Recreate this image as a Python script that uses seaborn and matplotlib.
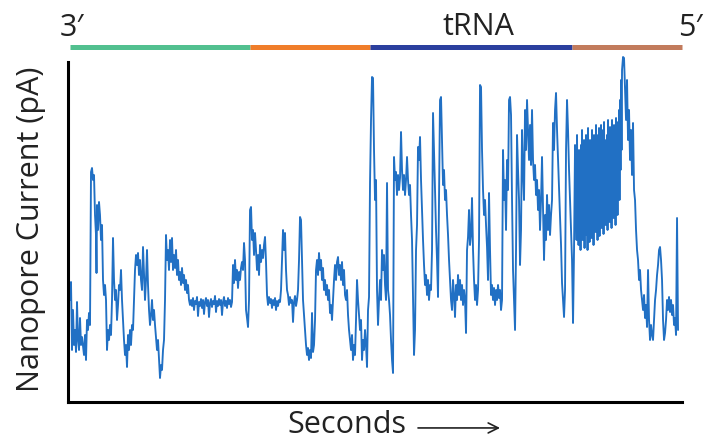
import matplotlib
matplotlib.use("Agg")
import matplotlib.pyplot as plt
import seaborn as sns

# trace: time (s) and current (pA)
time_s = [
    0.2, 0.3, 0.4, 0.5, 0.6, 0.7, 0.8, 0.9, 1.0, 1.1,
    1.2, 1.3, 1.4, 1.6, 1.7, 1.8, 1.9, 2.0, 2.1, 2.2,
    2.3, 2.4, 2.5, 2.6, 2.7, 2.8, 2.85, 2.9, 3.0, 3.1,
    3.2, 3.3, 3.4, 3.5, 3.6, 3.7, 3.8, 3.9, 4.0, 4.1,
    4.2, 4.3, 4.4, 4.5, 4.6, 4.7, 4.8, 4.9, 5.0, 5.1,
    5.2, 5.3, 5.4, 5.5, 5.6, 5.7, 5.8, 5.9, 6.0, 6.1,
    6.2, 6.3, 6.4, 6.5, 6.6, 6.7, 6.8, 6.9, 7.0, 7.1,
    7.2, 7.3, 7.4, 7.5, 7.6, 7.7, 7.8, 7.9, 8.0, 8.1,
    8.2, 8.3, 8.4, 8.5, 8.6, 8.7, 8.8, 8.9, 9.0, 9.1,
    9.2, 9.3, 9.4, 9.5, 9.6, 9.7, 9.8, 9.9, 10.0, 10.1,
    10.2, 10.3, 10.4, 10.5, 10.6, 10.7, 10.8, 10.9, 11.0, 11.1,
    11.2, 11.3, 11.4, 11.5, 11.6, 11.7, 11.8, 11.9, 12.0, 12.1,
    12.2, 12.3, 12.4, 12.5, 12.6, 12.7, 12.8, 12.9, 13.0, 13.1,
    13.2, 13.3, 13.4, 13.5, 13.6, 13.7, 13.8, 13.9, 14.0, 14.1,
    14.2, 14.3, 14.4, 14.5, 14.6, 14.7, 14.8, 14.9, 15.0, 15.1,
    15.2, 15.3, 15.4, 15.5, 15.6, 15.7, 15.8, 15.9, 16.0, 16.1,
    16.2, 16.3, 16.4, 16.5, 16.6, 16.7, 16.8, 16.9, 17.0, 17.1,
    17.2, 17.3, 17.4, 17.5, 17.6, 17.7, 17.8, 17.9, 18.0, 18.1,
    18.2, 18.3, 18.4, 18.5, 18.6, 18.7, 18.8, 18.9, 19.0, 19.1,
    19.2, 19.3, 19.4, 19.5, 19.6, 19.7, 19.8, 19.9, 20.0, 20.1,
    20.2, 20.3, 20.4, 20.5, 20.6, 20.7, 20.8, 20.9, 21.0, 21.1,
    21.2, 21.3, 21.4, 21.5, 21.6, 21.7, 21.8, 21.9, 22.0, 22.1,
    22.2, 22.3, 22.4, 22.5, 22.6, 22.7, 22.8, 22.9, 23.0, 23.1,
    23.2, 23.3, 23.4, 23.5, 23.6, 23.7, 23.8, 23.9, 24.0, 24.1,
    24.2, 24.3, 24.4, 24.5, 24.6, 24.7, 24.8, 24.9, 25.0, 25.1,
    25.2, 25.3, 25.4, 25.5, 25.6, 25.7, 25.8, 25.9, 26.0, 26.1,
    26.2, 26.3, 26.4, 26.5, 26.6, 26.7, 26.8, 26.9, 27.0, 27.1,
    27.2, 27.3, 27.4, 27.5, 27.6, 27.7, 27.8, 27.9, 28.0, 28.1,
    28.2, 28.3, 28.4, 28.5, 28.6, 28.7, 28.8, 28.9, 29.0, 29.1,
    29.2, 29.3, 29.4, 29.5, 29.6, 29.7, 29.8, 29.9, 30.0, 30.1,
    30.2, 30.3, 30.4, 30.5, 30.6, 30.7, 30.8, 30.9, 31.0, 31.1,
    31.2, 31.3, 31.4, 31.5, 31.6, 31.7, 31.8, 31.9, 32.0, 32.1,
    32.2, 32.3, 32.4, 32.5, 32.6, 32.7, 32.8, 32.9, 33.0, 33.1,
    33.2, 33.3, 33.4, 33.5, 33.6, 33.7, 33.8, 33.9, 34.0, 34.1,
    34.2, 34.3, 34.4, 34.5, 34.6, 34.7, 34.8, 34.9, 35.0, 35.1,
    35.2, 35.3, 35.4, 35.5, 35.6, 35.7, 35.8, 35.9, 36.0, 36.1,
    36.2, 36.3, 36.4, 36.5, 36.6, 36.7, 36.8, 36.9, 37.0, 37.1,
    37.2, 37.3, 37.4, 37.5, 37.6, 37.7, 37.8, 37.9, 38.0, 38.1,
    38.2, 38.3, 38.4, 38.5, 38.6, 38.7, 38.8, 38.9, 39.0, 39.1,
    39.2, 39.3, 39.4, 39.5, 39.6, 39.7, 39.8, 39.9, 40.0, 40.1,
    40.2, 40.3, 40.4, 40.5, 40.6, 40.7, 40.8, 40.9, 41.0, 41.1,
    41.2, 41.3, 41.4, 41.5, 41.6, 41.7, 41.8, 41.9, 42.0, 42.1,
    42.2, 42.3, 42.4, 42.5, 42.6, 42.7, 42.8, 42.9, 43.0, 43.1,
    43.2, 43.3, 43.4, 43.5, 43.6, 43.7, 43.8, 43.9, 44.0, 44.1,
    44.2, 44.3, 44.4, 44.5, 44.6, 44.7, 44.8, 44.9, 45.0, 45.1,
    45.2, 45.3, 45.4, 45.5, 45.6, 45.7, 45.8, 45.9, 46.0, 46.1,
    46.2, 46.3, 46.4, 46.5, 46.6, 46.7, 46.8, 46.9, 47.0, 47.1,
    47.2, 47.3, 47.4, 47.5, 47.6, 47.7, 47.8, 47.9, 48.0, 48.1,
    48.2, 48.3, 48.4, 48.5, 48.6, 48.7, 48.8, 48.9, 49.0, 49.1,
    49.2, 49.3, 49.4, 49.5, 49.6, 49.7, 49.8, 49.9, 50.0, 50.1,
    50.2, 50.3, 50.4, 50.5, 50.6,
    # fast-fluctuating block near the 5' end
    50.7, 50.75, 50.8, 50.85, 50.9, 50.95, 51.0, 51.05, 51.1, 51.15,
    51.2, 51.25, 51.3, 51.35, 51.4, 51.45, 51.5, 51.55, 51.6, 51.65,
    51.7, 51.75, 51.8, 51.85, 51.9, 51.95, 52.0, 52.05, 52.1, 52.15,
    52.2, 52.25, 52.3, 52.35, 52.4, 52.45, 52.5, 52.55, 52.6, 52.65,
    52.7, 52.75, 52.8, 52.85, 52.9, 52.95, 53.0, 53.05, 53.1, 53.15,
    53.2, 53.25, 53.3, 53.35, 53.4, 53.45, 53.5, 53.55, 53.6, 53.65,
    53.7, 53.75, 53.8, 53.85, 53.9, 53.95, 54.0, 54.05, 54.1, 54.15,
    54.2, 54.25, 54.3, 54.35, 54.4, 54.45, 54.5, 54.55, 54.6, 54.65,
    54.7, 54.75, 54.8, 54.85, 54.9, 54.95, 55.0, 55.05, 55.1, 55.15,
    55.2, 55.25, 55.3, 55.35, 55.4,
    55.5, 55.6, 55.7, 55.8, 55.9, 56.0, 56.1, 56.2, 56.3, 56.4,
    56.5, 56.6, 56.7, 56.8, 56.9, 57.0, 57.1, 57.2, 57.3, 57.4,
    57.5, 57.6, 57.7, 57.8, 57.9, 58.0, 58.1, 58.2, 58.3, 58.4,
    58.5, 58.6, 58.7, 58.8, 58.9, 59.0, 59.1, 59.2, 59.3, 59.4,
    59.5, 59.6, 59.7, 59.8, 59.9, 60.0, 60.1, 60.2, 60.3, 60.4,
    60.5, 60.6, 60.7, 60.8, 60.9, 61.0,
]

current_pA = [
    10.0, 11.8, 5.0, 9.0, 5.5, 7.0, 4.8, 9.8, 6.0, 5.0,
    8.2, 5.5, 6.3, 4.5, 6.5, 4.0, 8.0, 7.0, 8.7, 7.5,
    22.8, 23.2, 22.0, 22.5, 18.5, 16.5, 12.7, 19.5, 17.0, 19.8,
    18.5, 16.0, 17.5, 12.0, 10.5, 11.5, 10.0, 5.0, 7.0, 6.0,
    7.5, 6.5, 10.0, 16.2, 12.0, 10.0, 11.0, 8.0, 9.5, 11.5,
    11.0, 13.0, 10.0, 8.0, 6.0, 4.5, 5.5, 3.3, 6.5, 5.0,
    7.0, 5.5, 7.5, 7.0, 10.0, 13.0, 14.5, 13.5, 14.7, 12.5,
    14.0, 12.0, 11.0, 15.3, 12.5, 10.0, 12.0, 15.0, 11.5, 9.0,
    7.5, 8.5, 10.0, 8.0, 9.0, 7.5, 6.3, 5.0, 6.0, 4.0,
    2.2, 3.5, 3.0, 5.0, 6.0, 10.0, 16.5, 14.0, 15.0, 13.0,
    16.0, 13.8, 16.2, 13.0, 14.5, 13.2, 15.0, 12.5, 14.0, 12.0,
    12.8, 11.5, 13.2, 11.7, 12.5, 11.0, 12.0, 10.7, 11.5, 10.0,
    9.5, 10.0, 9.4, 10.2, 9.0, 9.9, 9.6, 10.3, 8.4, 9.8,
    9.4, 10.1, 9.2, 10.0, 8.6, 9.8, 10.2, 9.4, 10.0, 8.3,
    9.7, 10.1, 9.3, 9.9, 9.6, 10.4, 8.8, 9.9, 9.4, 10.1,
    9.5, 10.0, 8.5, 9.8, 10.3, 9.4, 9.9, 9.2, 10.2, 9.6,
    10.0, 9.3, 9.8, 13.5, 11.7, 14.0, 12.0, 13.0, 11.2, 12.8,
    12.0, 13.2, 13.8, 13.0, 15.7, 14.0, 9.0, 8.2, 7.3, 10.0,
    19.0, 19.3, 16.0, 17.0, 14.5, 16.7, 15.0, 13.0, 14.5, 12.5,
    15.5, 13.8, 15.0, 14.2, 15.5, 16.3, 13.8, 10.5, 9.5, 10.3,
    9.7, 10.1, 9.2, 10.0, 9.5, 10.2, 9.0, 9.9, 9.4, 10.0,
    9.8, 11.0, 14.0, 17.0, 15.0, 16.7, 13.0, 11.0, 10.5, 9.5,
    10.3, 9.7, 10.0, 7.8, 9.8, 10.4, 9.4, 10.0, 11.0, 14.0,
    18.3, 18.0, 14.0, 10.0, 8.5, 7.0, 5.5, 4.5, 5.2, 4.0,
    5.0, 4.2, 8.7, 4.8, 5.5, 8.0, 13.0, 14.0, 12.5, 14.7,
    13.0, 14.0, 12.0, 13.2, 11.0, 12.0, 10.5, 11.5, 10.0, 11.0,
    8.7, 9.5, 8.0, 10.0, 12.0, 13.5, 12.0, 13.8, 14.3, 12.5,
    13.5, 12.0, 13.8, 11.5, 13.0, 10.5, 10.0, 11.0, 8.5, 7.0,
    6.0, 5.0, 6.5, 4.0, 5.5, 4.5, 8.0, 12.0, 10.0, 8.5,
    7.0, 8.0, 4.0, 6.0, 5.0, 7.0, 5.5, 3.3, 9.0, 10.3,
    21.7, 28.0, 32.3, 32.2, 25.0, 20.0, 22.0, 11.0, 7.5, 10.0,
    12.0, 10.0, 15.0, 13.0, 14.5, 11.5, 10.0, 21.7, 11.0, 10.0,
    8.5, 6.0, 4.0, 2.7, 24.3, 22.0, 22.8, 20.5, 22.5, 21.0,
    22.2, 26.8, 23.0, 21.0, 22.5, 20.5, 22.0, 24.3, 22.0, 20.5,
    21.5, 18.5, 16.0, 10.0, 4.5, 7.0, 15.0, 17.5, 25.3, 24.0,
    26.3, 22.0, 19.0, 16.0, 13.5, 11.5, 12.5, 10.5, 12.0, 10.0,
    11.5, 11.0, 15.0, 28.7, 25.0, 21.0, 17.0, 14.0, 10.3, 20.0,
    30.0, 30.3, 26.0, 21.5, 23.0, 20.0, 21.0, 18.5, 16.5, 14.0,
    12.0, 10.0, 9.0, 12.0, 10.5, 8.3, 11.5, 10.0, 12.5, 10.5,
    12.0, 10.0, 11.5, 9.5, 11.0, 10.0, 6.7, 15.0, 16.3, 19.0,
    15.5, 16.5, 20.2, 15.0, 12.0, 10.0, 11.5, 9.5, 11.0, 16.0,
    31.5, 31.3, 25.0, 21.0, 18.5, 20.0, 17.5, 15.3, 12.0, 20.7,
    15.0, 10.5, 11.5, 10.0, 11.2, 9.5, 11.0, 10.0, 11.5, 10.2,
    11.0, 9.0, 10.0, 25.0, 20.0, 22.0, 17.0, 24.0, 21.0, 30.0,
    30.3, 28.5, 20.0, 13.0, 10.0, 7.0, 15.0, 26.5, 23.0, 20.0,
    13.5, 17.0, 27.0, 23.0, 20.0, 29.0, 25.0, 30.0, 27.0, 24.0,
    27.5, 23.5, 29.0, 24.0, 22.0, 23.5, 20.5, 22.0, 19.0, 21.0,
    17.0, 20.0, 24.3, 19.0, 14.0, 18.5, 16.0, 20.5, 17.0, 19.5,
    16.5, 18.5, 20.0, 27.7, 25.0, 29.0, 30.7, 27.0, 24.0, 21.0,
    18.3, 15.5, 11.7, 10.0, 8.3, 11.0, 25.0, 30.0, 27.0, 23.0,
    20.0, 17.0, 14.0, 7.7, 15.0,
    25.5, 17.0, 22.5, 16.0, 26.5, 19.5, 24.0, 15.5, 25.0, 18.0,
    23.0, 15.0, 25.5, 20.5, 27.0, 16.0, 22.5, 18.5, 26.0, 15.2,
    24.0, 20.0, 26.5, 16.5, 23.5, 15.0, 27.2, 19.0, 22.0, 15.8,
    26.0, 18.5, 25.0, 16.2, 27.0, 20.5, 24.0, 15.5, 26.5, 18.0,
    23.5, 16.8, 27.5, 19.8, 25.0, 16.0, 26.5, 18.2, 27.2, 16.4,
    24.0, 20.0, 27.5, 17.2, 25.0, 21.0, 27.0, 16.6, 27.8, 19.5,
    25.5, 17.5, 26.0, 20.5, 26.5, 17.0, 28.0, 19.8, 25.0, 17.8,
    27.3, 21.0, 26.5, 17.2, 28.0, 20.5, 25.2, 18.2, 27.5, 21.0,
    27.0, 17.5, 28.2, 21.5, 25.5, 18.5, 27.8, 22.0, 29.0, 20.0,
    30.0, 23.0, 32.0, 25.0, 33.0,
    34.3, 34.2, 31.0, 28.0, 32.0, 26.0, 29.0, 24.0, 27.0, 22.5,
    27.7, 21.0, 20.0, 17.0, 15.0, 14.0, 12.0, 13.0, 11.0, 10.0,
    9.0, 10.5, 8.2, 9.5, 7.3, 13.0, 8.0, 6.0, 7.5, 6.5,
    6.0, 8.0, 10.0, 11.0, 12.5, 13.5, 15.0, 15.3, 14.0, 12.0,
    8.0, 6.0, 6.7, 8.0, 10.0, 9.0, 10.3, 8.8, 10.0, 8.5,
    9.5, 7.5, 8.2, 6.5, 18.2, 7.0,
]

# tRNA regions shown in the bar above the trace (3' -> 5')
region_start = [0.2, 18.2, 30.2, 50.4]
region_end = [18.2, 30.2, 50.4, 61.4]
region_colors = ["#52c08f", "#f07d2a", "#2b3f9e", "#c27b5c"]

TRACE = "#2170c4"
INK = "#222222"

sns.set_theme(style="white")
plt.rcParams["font.family"] = ["Open Sans", "DejaVu Sans"]

fig = plt.figure(figsize=(7.04, 4.44), dpi=100)
ax = fig.add_axes([0.0966, 0.0946, 0.8722, 0.7793])

sns.lineplot(x=time_s, y=current_pA, ax=ax, color=TRACE, linewidth=1.35,
             sort=False, estimator=None)

ax.set_xlim(0, 61.4)
ax.set_ylim(-0.2, 34.4)
ax.set_xticks([])
ax.set_yticks([])
for side in ["top", "right"]:
    ax.spines[side].set_visible(False)
for side in ["left", "bottom"]:
    ax.spines[side].set_color("black")
    ax.spines[side].set_linewidth(2.2)
ax.spines["left"].set_bounds(-0.2, 33.8)

# coloured region bar
for s, e, c in zip(region_start, region_end, region_colors):
    ax.hlines(35.3, s, e, colors=c, linewidth=3.6, clip_on=False,
              capstyle="butt")

ax.text(0.4, 37.2, "3′", ha="center", va="center", fontsize=22, color=INK)
ax.text(41.0, 37.3, "tRNA", ha="center", va="center", fontsize=22, color=INK)
ax.text(62.2, 37.2, "5′", ha="center", va="center", fontsize=22, color=INK)

ax.set_ylabel("Nanopore Current (pA)", fontsize=22, color=INK)
ax.yaxis.set_label_coords(-0.060, 0.5)
ax.yaxis.label.set_va("center")

ax.set_xlabel("Seconds", fontsize=22, color=INK)
ax.xaxis.set_label_coords(0.4536, -0.066)
ax.xaxis.label.set_va("center")
ax.annotate("", xy=(0.7036, -0.075), xytext=(0.570, -0.075),
            xycoords="axes fraction",
            arrowprops=dict(arrowstyle="->", color=INK, lw=1.2,
                            mutation_scale=18, shrinkA=0, shrinkB=0))

fig.savefig("out.png", dpi=100)
